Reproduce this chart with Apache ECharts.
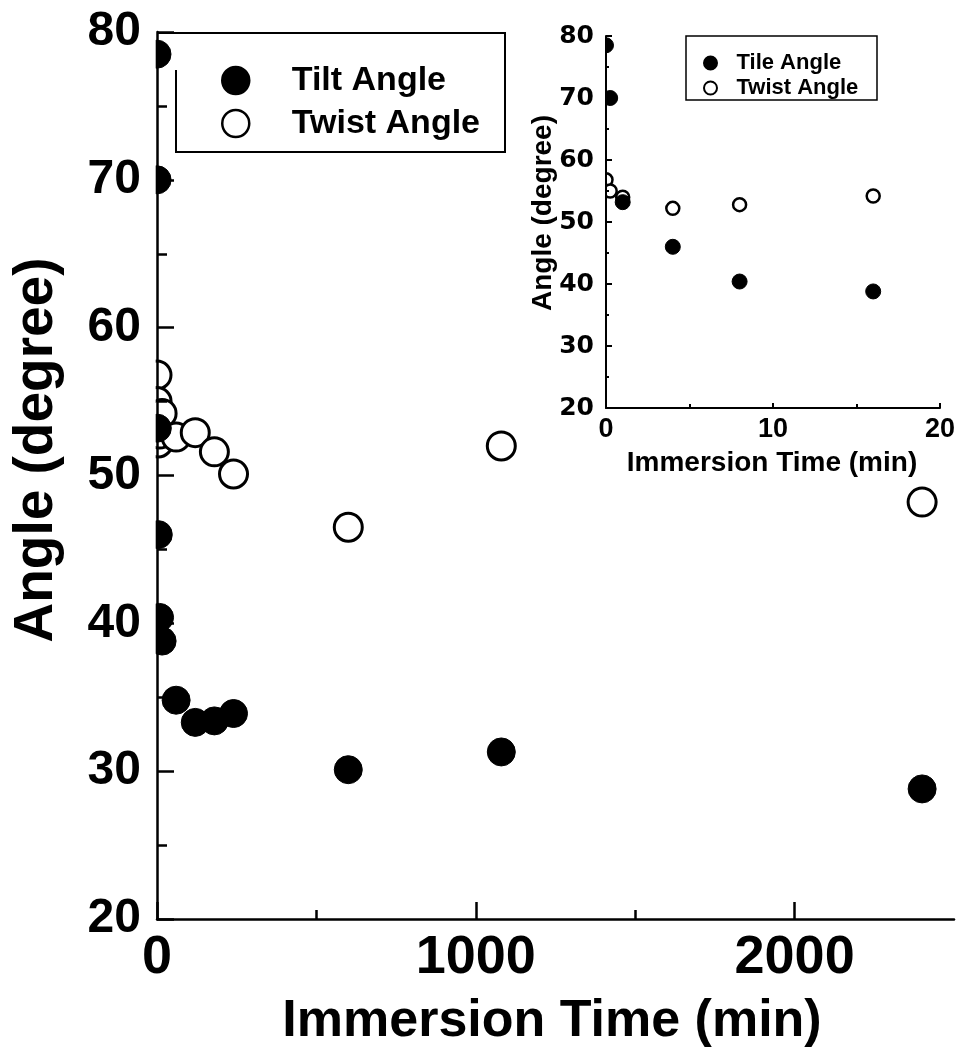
<!DOCTYPE html>
<html>
<head>
<meta charset="utf-8">
<script src="https://cdn.jsdelivr.net/npm/echarts@6/dist/echarts.min.js"></script>
<style>
  html, body { margin: 0; padding: 0; background: #fff; }
  #chart { width: 961px; height: 1051px; }
</style>
</head>
<body>
<div id="chart"></div>
<script>
// Immersion time (min) and the measured molecular angles (degree)
const timeMin    = [0,    0.25, 1,    4,    8,    16,   60,   120,  180,  240,  600,  1080, 2400];
const tiltAngle  = [78.5, 70.0, 53.2, 46.0, 40.4, 38.8, 34.8, 33.3, 33.4, 33.9, 30.1, 31.3, 28.8];
const twistAngle = [56.8, 55.0, 54.0, 52.2, 52.8, 54.2, 52.6, 52.9, 51.6, 50.1, 46.5, 52.0, 48.2];

// Axis ranges and tick values
const angleRange      = [20, 80];
const mainTimeRange   = [0, 2500];
const mainTimeLabels  = [0, 1000, 2000];
const mainTimeMinor   = [500, 1500];
const insetTimeRange  = [0, 20];

// Legend names
const mainNames  = ['Tilt Angle', 'Twist Angle'];
const insetNames = ['Tile Angle', 'Twist Angle'];

const FONT = '"Liberation Sans", Arial, sans-serif';
const WIDE_FONT = '"DejaVu Sans", sans-serif';
const INK = '#000';

// Plot boxes: the full-range plot and the first-20-minutes inset
const mainGrid  = { left: 157, top: 32, width: 797, height: 887 };
const insetGrid = { left: 606, top: 36, width: 334, height: 372 };

const pairs = (ys, maxT) => timeMin
  .map((t, i) => [t, ys[i]])
  .filter(p => maxT === undefined || p[0] <= maxT);

const plainNumber = v => String(v);

const chart = echarts.init(document.getElementById('chart'), null, { renderer: 'canvas' });

const option = {
  animation: false,
  backgroundColor: '#fff',
  grid: [mainGrid, insetGrid],
  xAxis: [
    {
      gridIndex: 0, type: 'value', position: 'bottom', min: mainTimeRange[0], max: mainTimeRange[1], z: 10,
      axisLine: { show: true, lineStyle: { color: INK, width: 2.5 } },
      axisTick: { show: true, inside: true, length: 17, customValues: mainTimeLabels, lineStyle: { color: INK, width: 2.5 } },
      axisLabel: { show: true, customValues: mainTimeLabels, formatter: plainNumber, margin: 12, color: INK, fontFamily: FONT, fontWeight: 'bold', fontSize: 54 },
      splitLine: { show: false }
    },
    {
      gridIndex: 0, type: 'value', position: 'bottom', min: mainTimeRange[0], max: mainTimeRange[1], z: 10,
      axisLine: { show: false },
      axisTick: { show: true, inside: true, length: 9, customValues: mainTimeMinor, lineStyle: { color: INK, width: 2.5 } },
      axisLabel: { show: false },
      splitLine: { show: false }
    },
    {
      gridIndex: 1, type: 'value', position: 'bottom', min: insetTimeRange[0], max: insetTimeRange[1], interval: 10, z: 10,
      axisLine: { show: true, lineStyle: { color: INK, width: 2 } },
      axisTick: { show: true, inside: true, length: 5, lineStyle: { color: INK, width: 2 } },
      minorTick: { show: true, splitNumber: 2, length: 4, lineStyle: { color: INK, width: 2 } },
      axisLabel: { show: true, formatter: plainNumber, margin: 8, color: INK, fontFamily: FONT, fontWeight: 'bold', fontSize: 27 },
      splitLine: { show: false }
    }
  ],
  yAxis: [
    {
      gridIndex: 0, type: 'value', min: angleRange[0], max: angleRange[1], interval: 10, z: 10,
      axisLine: { show: true, lineStyle: { color: INK, width: 2.5 } },
      axisTick: { show: true, inside: true, length: 17, lineStyle: { color: INK, width: 2.5 } },
      minorTick: { show: true, splitNumber: 2, length: 10, lineStyle: { color: INK, width: 2.5 } },
      axisLabel: { show: true, margin: 16, color: INK, fontFamily: FONT, fontWeight: 'bold', fontSize: 48 },
      splitLine: { show: false }
    },
    {
      gridIndex: 1, type: 'value', min: angleRange[0], max: angleRange[1], interval: 10, z: 10,
      axisLine: { show: true, lineStyle: { color: INK, width: 2 } },
      axisTick: { show: true, inside: true, length: 6, lineStyle: { color: INK, width: 2 } },
      minorTick: { show: true, splitNumber: 2, length: 3, lineStyle: { color: INK, width: 2 } },
      axisLabel: { show: true, margin: 12, color: INK, fontFamily: WIDE_FONT, fontWeight: 'bold', fontSize: 25 },
      splitLine: { show: false }
    }
  ],
  legend: [
    {
      data: mainNames, orient: 'vertical', left: 221, top: 63.5, padding: 0,
      itemWidth: 27, itemHeight: 27, itemGap: 9,
      itemStyle: { borderWidth: 2.5 },
      textStyle: { color: INK, fontFamily: FONT, fontWeight: 'bold', fontSize: 34, padding: [0, 0, 0, 37.5] },
      selectedMode: false
    },
    {
      data: insetNames, orient: 'vertical', left: 703, top: 52, padding: 0,
      itemWidth: 13, itemHeight: 13, itemGap: 3,
      itemStyle: { borderWidth: 2 },
      textStyle: { color: INK, fontFamily: FONT, fontWeight: 'bold', fontSize: 22, padding: [0, 0, 0, 14.5] },
      selectedMode: false
    }
  ],
  series: [
    {
      name: mainNames[1], type: 'scatter', xAxisIndex: 0, yAxisIndex: 0, z: 2,
      symbol: 'circle', symbolSize: 28,
      itemStyle: { color: '#fff', borderColor: INK, borderWidth: 3, opacity: 1 },
      data: pairs(twistAngle)
    },
    {
      name: mainNames[0], type: 'scatter', xAxisIndex: 0, yAxisIndex: 0, z: 3,
      symbol: 'circle', symbolSize: 28,
      itemStyle: { color: INK, borderColor: INK, borderWidth: 1, opacity: 1 },
      data: pairs(tiltAngle)
    },
    {
      name: insetNames[1], type: 'scatter', xAxisIndex: 2, yAxisIndex: 1, z: 2,
      symbol: 'circle', symbolSize: 13,
      itemStyle: { color: '#fff', borderColor: INK, borderWidth: 2.5, opacity: 1 },
      data: pairs(twistAngle, insetTimeRange[1])
    },
    {
      name: insetNames[0], type: 'scatter', xAxisIndex: 2, yAxisIndex: 1, z: 3,
      symbol: 'circle', symbolSize: 15,
      itemStyle: { color: INK, borderColor: INK, borderWidth: 1, opacity: 1 },
      data: pairs(tiltAngle, insetTimeRange[1])
    }
  ],
  graphic: [
    // white strips left of each y axis, so markers at t = 0 show only their right half
    {
      type: 'rect', z: 5, silent: true,
      shape: { x: mainGrid.left - 20, y: mainGrid.top - 20, width: 18.7, height: mainGrid.height + 20 },
      style: { fill: '#fff' }
    },
    {
      type: 'rect', z: 5, silent: true,
      shape: { x: insetGrid.left - 10, y: insetGrid.top - 12, width: 9, height: insetGrid.height + 10 },
      style: { fill: '#fff' }
    },
    // legend frames
    {
      type: 'polyline', z: 1, silent: true,
      shape: { points: [[157, 33], [505, 33], [505, 152], [176, 152], [176, 70]] },
      style: { stroke: INK, lineWidth: 2, fill: null }
    },
    {
      type: 'rect', z: 1, silent: true,
      shape: { x: 686, y: 36, width: 191, height: 64 },
      style: { stroke: INK, lineWidth: 1.5, fill: null }
    },
    // axis titles
    {
      type: 'text', z: 10, silent: true, x: 37, y: 450, rotation: Math.PI / 2,
      style: { text: 'Angle (degree)', fill: INK, font: 'bold 55px ' + FONT, align: 'center', verticalAlign: 'middle' }
    },
    {
      type: 'text', z: 10, silent: true, x: 552, y: 1022,
      style: { text: 'Immersion Time (min)', fill: INK, font: 'bold 52px ' + FONT, align: 'center', verticalAlign: 'middle' }
    },
    {
      type: 'text', z: 10, silent: true, x: 543, y: 213, rotation: Math.PI / 2,
      style: { text: 'Angle (degree)', fill: INK, font: 'bold 28px ' + FONT, align: 'center', verticalAlign: 'middle' }
    },
    {
      type: 'text', z: 10, silent: true, x: 772, y: 463,
      style: { text: 'Immersion Time (min)', fill: INK, font: 'bold 28px ' + FONT, align: 'center', verticalAlign: 'middle' }
    }
  ]
};

chart.setOption(option);
</script>
</body>
</html>
